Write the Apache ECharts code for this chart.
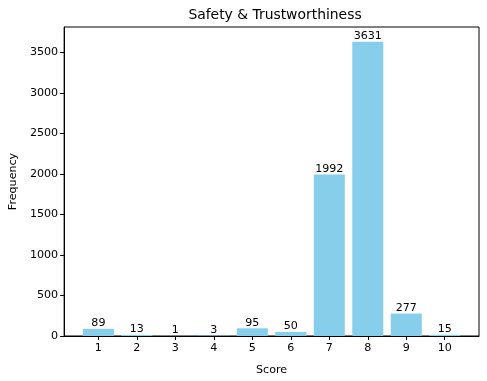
<!DOCTYPE html>
<html><head><meta charset="utf-8">
<script src="https://cdn.jsdelivr.net/npm/echarts@6/dist/echarts.min.js"></script>
<style>html,body{margin:0;padding:0;background:#fff}#c{width:487px;height:381px}</style>
</head><body><div id="c"></div>
<script>
const scores = [1,2,3,4,5,6,7,8,9,10];
const freqs = [89,13,1,3,95,50,1992,3631,277,15];
const yTicks = [0,500,1000,1500,2000,2500,3000,3500];
const title = 'Safety & Trustworthiness';
const xName = 'Score';
const yName = 'Frequency';

const font = 'DejaVu Sans';
const chart = echarts.init(document.getElementById('c'), null, {renderer:'canvas'});
const ymax = Math.max(...freqs) * 1.05;
chart.setOption({
  animation:false,
  title:{text:title, left:270, top:3, textAlign:'center',
    textStyle:{fontFamily:font, fontSize:13.9, fontWeight:'normal', color:'#000'}},
  grid:{left:62, right:8, top:27, bottom:44, show:true, borderColor:'#000', borderWidth:1, backgroundColor:'transparent'},
  xAxis:{type:'value', min:0.11, max:10.89,
    name:xName, nameLocation:'middle', nameGap:29,
    nameTextStyle:{fontFamily:font, fontSize:11.1, color:'#000'},
    axisLine:{show:true, lineStyle:{color:'#000', width:1}},
    axisTick:{show:true, length:4, lineStyle:{color:'#000'}, customValues:scores},
    axisLabel:{fontFamily:font, fontSize:11.1, color:'#000', margin:7, customValues:scores},
    splitLine:{show:false}},
  yAxis:{type:'value', min:0, max:ymax,
    name:yName, nameLocation:'middle', nameGap:44,
    nameTextStyle:{fontFamily:font, fontSize:11.1, color:'#000'},
    axisLine:{show:true, lineStyle:{color:'#000', width:1}},
    axisTick:{show:true, length:4, lineStyle:{color:'#000'}, customValues:yTicks},
    axisLabel:{fontFamily:font, fontSize:11.1, color:'#000', margin:6, customValues:yTicks,
      formatter:v=>String(v)},
    splitLine:{show:false}},
  series:[{type:'bar', data:scores.map((s,i)=>[s,freqs[i]]), barWidth:31,
    itemStyle:{color:'#87CEEB'},
    label:{show:true, position:'top', distance:0, fontFamily:font, fontSize:11.1, color:'#000'}}]
});
</script></body></html>
